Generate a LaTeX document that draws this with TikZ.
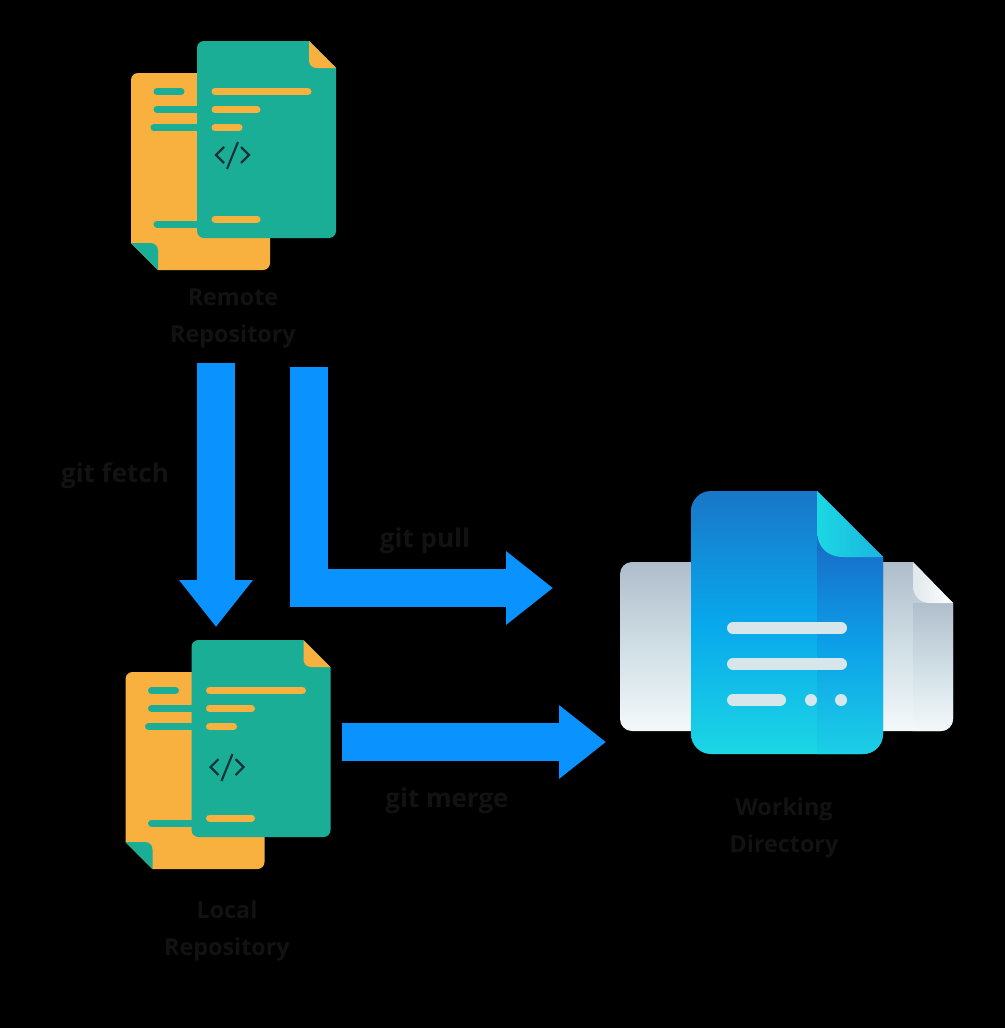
\documentclass[tikz,border=0pt]{standalone}
\usepackage{fontspec}
\setmainfont{Open Sans}
\usetikzlibrary{arrows.meta}
\definecolor{docteal}{HTML}{1BAE97}
\definecolor{docorange}{HTML}{F8B03F}
\definecolor{codeink}{HTML}{14323A}
\definecolor{flowblue}{HTML}{0A92FF}
\definecolor{hiddenink}{HTML}{121212}
\definecolor{barlight}{HTML}{D6E6EB}
\definecolor{BackTop}{HTML}{AEBDCA}
\definecolor{BackMid}{HTML}{D0DFE5}
\definecolor{BackBot}{HTML}{F4F8FA}
\definecolor{StripTop}{HTML}{B0BFCC}
\definecolor{FoldA}{HTML}{DFE8EC}
\definecolor{FoldB}{HTML}{FFFFFF}
\definecolor{FrontTop}{HTML}{1976C8}
\definecolor{FrontMid}{HTML}{08A8EC}
\definecolor{FrontBot}{HTML}{1CD6E4}
\definecolor{FrontStrip}{HTML}{1A66C4}
\definecolor{FrontStripMid}{HTML}{0C9FE8}
\definecolor{FrontStripBot}{HTML}{1CCFE6}
\definecolor{FoldC}{HTML}{1CD8E2}
\definecolor{FoldD}{HTML}{1BB4E0}
\tikzset{
  x=0.75pt,y=-0.75pt,
  flow/.style={draw=flowblue,line width=28.5pt,line join=miter,
    -{Triangle[length=35.25pt,width=53pt,fill=flowblue]}},
  caption/.style={text=hiddenink,font=\fontsize{17.5pt}{27.75pt}\selectfont\bfseries,align=center,inner sep=0pt},
  command/.style={text=hiddenink,font=\fontsize{19.5pt}{24pt}\selectfont\bfseries,align=center,inner sep=0pt},
  tealbar/.style={draw=docteal,line width=5.25pt,line cap=round},
  orangebar/.style={draw=docorange,line width=5.25pt,line cap=round},
  lightbar/.style={draw=barlight,line width=9pt,line cap=round},
  pics/repo/.style={code={
    % back orange sheet
    \fill[docorange] (131,80) arc[start angle=180,end angle=270,radius=7] -- (263,73)
      arc[start angle=270,end angle=360,radius=7] -- (270,263)
      arc[start angle=0,end angle=90,radius=7] -- (158,270) -- (131,243) -- cycle;
    \fill[docteal] (131,243) -- (150,243) .. controls (155,243) and (158,246) .. (158,251) -- (158,270) -- cycle;
    \draw[tealbar] (157,91.5) -- (181,91.5);
    \draw[tealbar] (157,109.5) -- (200,109.5);
    \draw[tealbar] (154,127.5) -- (200,127.5);
    \draw[tealbar] (157,224) -- (200,224);
    % front teal sheet
    \fill[docteal] (197,48) arc[start angle=180,end angle=270,radius=7] -- (309,41) -- (336,68)
      -- (336,231) arc[start angle=0,end angle=90,radius=7] -- (204,238)
      arc[start angle=90,end angle=180,radius=7] -- cycle;
    \fill[docorange] (309,41) -- (336,68) -- (317,68) .. controls (312,68) and (309,65) .. (309,60) -- cycle;
    \draw[orangebar] (215,91.5) -- (308,91.5);
    \draw[orangebar] (215,109.5) -- (257,109.5);
    \draw[orangebar] (215,127.5) -- (239,127.5);
    \draw[orangebar] (215,219) -- (257,219);
  }},
  pics/codeglyph/.style={code={
    \draw[codeink,line width=1.6pt] (224,147) -- (216,155) -- (224,163);
    \draw[codeink,line width=1.6pt] (241,147) -- (249,155) -- (241,163);
    \draw[codeink,line width=1.6pt] (238,142) -- (227,169);
  }}
}
\begin{document}
\begin{tikzpicture}
\useasboundingbox (0,0) rectangle (1005,1028);
\fill[black] (0,0) rectangle (1005,1028);

% remote and local repository icons
\pic at (0,0) {repo};
\pic at (0,0) {codeglyph};
\pic at (-5.5,599) {repo};
\pic at (-5.5,612) {codeglyph};

% working directory icon: back sheet
\path[top color=BackTop,bottom color=BackBot,middle color=BackMid] (620,574)
  arc[start angle=180,end angle=270,radius=12] -- (913,562) -- (953,603) -- (953,719)
  arc[start angle=0,end angle=90,radius=12] -- (632,731)
  arc[start angle=90,end angle=180,radius=12] -- cycle;
\path[top color=StripTop,bottom color=BackBot,middle color=BackMid] (913,603) -- (953,603) -- (953,719)
  arc[start angle=0,end angle=90,radius=12] -- (913,731) -- cycle;
\path[left color=FoldA,right color=FoldB] (913,562) -- (953,603) -- (930,603)
  .. controls (920,603) and (913,596) .. (913,586) -- cycle;

% working directory icon: front sheet
\path[top color=FrontTop,bottom color=FrontBot,middle color=FrontMid] (691,511)
  arc[start angle=180,end angle=270,radius=20] -- (817,491) -- (883,557) -- (883,734)
  arc[start angle=0,end angle=90,radius=20] -- (711,754)
  arc[start angle=90,end angle=180,radius=20] -- cycle;
\path[top color=FrontStrip,bottom color=FrontStripBot,middle color=FrontStripMid]
  (817,530) .. controls (817,547) and (827,557) .. (844,557) -- (883,557) -- (883,734)
  arc[start angle=0,end angle=90,radius=20] -- (817,754) -- cycle;
\path[left color=FoldC,right color=FoldD] (817,491) -- (883,557) -- (844,557)
  .. controls (827,557) and (817,547) .. (817,530) -- cycle;
\draw[lightbar] (733,628) -- (841,628);
\draw[lightbar] (733,664) -- (841,664);
\draw[lightbar] (733,700) -- (780,700);
\fill[barlight] (811,700) circle[radius=6];
\fill[barlight] (841,700) circle[radius=6];

% captions
\node[caption] (remote) at (233,318) {Remote\\Repository};
\node[caption] (local) at (227,931) {Local\\Repository};
\node[caption] (working) at (784,828) {Working\\Directory};

% connector anchors
\coordinate (fetchS) at (216,363);
\coordinate (fetchE) at (216,627);
\coordinate (pullS) at (308.5,367);
\coordinate (pullE) at (553,588);
\coordinate (mergeS) at (342,742);
\coordinate (mergeE) at (606,742);

\draw[flow] (fetchS) -- (fetchE);
\draw[flow] (pullS) |- (pullE);
\draw[flow] (mergeS) -- (mergeE);

% connector labels
\node[command] (fetchL) at (115,476) {git fetch};
\node[command] (pullL) at (425,541) {git pull};
\node[command] (mergeL) at (447,801) {git merge};
\end{tikzpicture}
\end{document}
